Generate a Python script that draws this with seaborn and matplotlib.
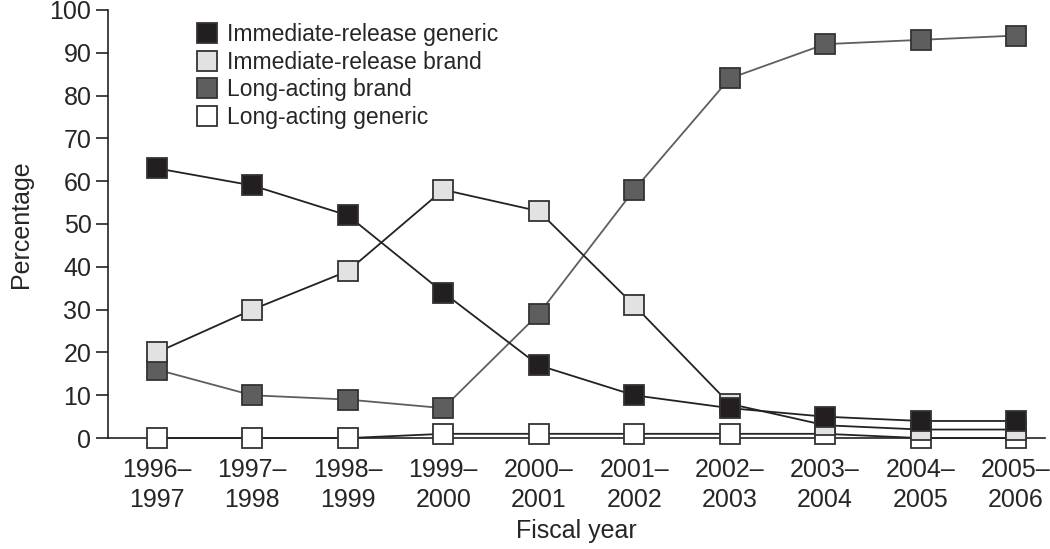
import numpy as np
import pandas as pd
import matplotlib
matplotlib.use('Agg')
import matplotlib.pyplot as plt
import seaborn as sns

years = ['1996–\n1997', '1997–\n1998', '1998–\n1999', '1999–\n2000', '2000–\n2001',
         '2001–\n2002', '2002–\n2003', '2003–\n2004', '2004–\n2005', '2005–\n2006']
ir_generic = [63, 59, 52, 34, 17, 10, 7, 5, 4, 4]
ir_brand = [20, 30, 39, 58, 53, 31, 8, 3, 2, 2]
la_brand = [16, 10, 9, 7, 29, 58, 84, 92, 93, 94]
la_generic = [0, 0, 0, 1, 1, 1, 1, 1, 0, 0]

sns.set_style('white')
plt.rcParams['font.family'] = ['Liberation Sans', 'DejaVu Sans']

fig = plt.figure(figsize=(10.5, 5.49), dpi=100)
ax = fig.add_axes([0.103, 0.202, 0.892, 0.78])

x = np.arange(len(years))
# (label, values, face, line colour) - drawn bottom to top
series = [
    ('Long-acting generic', la_generic, 'white', '#222222'),
    ('Long-acting brand', la_brand, '#5e5e5e', '#5e5e5e'),
    ('Immediate-release brand', ir_brand, '#e2e2e2', '#222222'),
    ('Immediate-release generic', ir_generic, '#231f20', '#222222'),
]
for lab, vals, face, lc in series:
    df = pd.DataFrame({'x': x, 'y': vals})
    sns.lineplot(data=df, x='x', y='y', ax=ax, color=lc, linewidth=1.3,
                 marker='s', markersize=14.5, markerfacecolor=face,
                 markeredgecolor='#333333', markeredgewidth=1.3,
                 label=lab, clip_on=False, zorder=3)

ax.set_xlim(-0.51, 9.3)
ax.set_ylim(0, 100)
ax.set_yticks(range(0, 101, 10))
ax.set_xticks(x)
ax.set_xticklabels(years)
ax.tick_params(axis='y', direction='out', length=9, width=1.2, color='#222222',
               labelsize=18, pad=3, left=True)
ax.tick_params(axis='x', length=0, labelsize=18, pad=14)
for lbl in ax.get_xticklabels():
    lbl.set_linespacing(1.35)
sns.despine(ax=ax)
for s in ['left', 'bottom']:
    ax.spines[s].set_color('#222222')
    ax.spines[s].set_linewidth(1.2)
ax.set_xlabel('Fiscal year', fontsize=18, labelpad=5)
ax.set_ylabel('Percentage', fontsize=18, labelpad=12)

handles, labels = ax.get_legend_handles_labels()
order = [3, 2, 1, 0]
leg = ax.legend([handles[i] for i in order], [labels[i] for i in order],
                loc='upper left', bbox_to_anchor=(0.084, 0.99), frameon=False,
                fontsize=16.5, handlelength=1.0, handletextpad=0.35,
                labelspacing=0.2, borderaxespad=0)
for h in leg.legend_handles:
    h.set_linestyle('none')
    h.set_markersize(15)

fig.savefig('out.png', dpi=100)
